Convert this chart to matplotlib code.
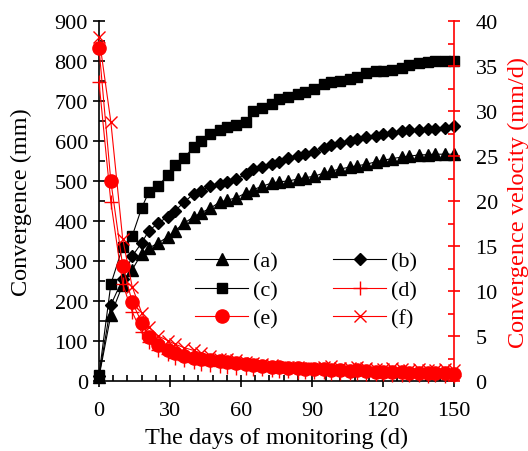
import matplotlib
matplotlib.use("Agg")
import matplotlib.pyplot as plt
from matplotlib.ticker import MultipleLocator, AutoMinorLocator

# --- Data ---
days = [0, 5, 10, 14, 18, 21, 25, 29, 32, 36, 40, 43, 47, 51, 54, 58, 62, 65, 69, 73, 76,
        80, 84, 87, 91, 95, 98, 102, 106, 109, 113, 117, 120, 124, 128, 131, 135, 139, 142, 146, 150]

conv_a = [10, 165, 240, 278, 318, 332, 345, 360, 375, 395, 410, 420, 432, 447, 452, 458, 470, 478, 487, 495, 498,
          500, 505, 508, 512, 520, 525, 530, 535, 538, 542, 548, 552, 556, 560, 562, 565, 566, 567, 567, 567]
conv_b = [12, 190, 255, 312, 345, 375, 395, 410, 425, 447, 468, 475, 487, 492, 497, 505, 517, 530, 536, 543, 548,
          557, 562, 567, 572, 582, 590, 595, 600, 605, 610, 612, 617, 620, 625, 627, 628, 630, 631, 633, 637]
conv_c = [15, 242, 335, 362, 432, 472, 487, 515, 540, 558, 585, 600, 618, 628, 635, 640, 648, 675, 683, 692, 705,
          710, 718, 722, 730, 742, 748, 750, 755, 760, 770, 775, 775, 778, 782, 790, 795, 798, 800, 800, 800]

vel_d = [33.2, 19.9, 10.8, 7.7, 5.4, 4.3, 3.5, 3.0, 2.6, 2.3, 2.1, 1.9, 1.8, 1.7, 1.6, 1.5, 1.4, 1.35, 1.3, 1.2, 1.1,
         1.1, 1.05, 1.0, 0.95, 1.0, 0.9, 0.9, 0.85, 0.9, 0.8, 0.8, 0.75, 0.7, 0.7, 0.65, 0.7, 0.6, 0.65, 0.6, 0.6]
vel_e = [37.0, 22.2, 12.8, 8.8, 6.5, 4.9, 4.0, 3.4, 3.1, 2.8, 2.6, 2.5, 2.3, 2.2, 2.1, 2.0, 1.9, 1.8, 1.7, 1.6, 1.55,
         1.5, 1.4, 1.35, 1.3, 1.3, 1.25, 1.2, 1.15, 1.2, 1.1, 1.05, 1.0, 1.0, 0.95, 0.9, 0.9, 0.85, 0.9, 0.85, 0.8]
vel_f = [38.2, 28.8, 15.8, 10.5, 7.6, 6.0, 5.0, 4.5, 4.1, 3.7, 3.4, 3.1, 2.8, 2.5, 2.4, 2.3, 2.1, 2.0, 1.9, 1.75, 1.6,
         1.6, 1.55, 1.5, 1.5, 1.6, 1.7, 1.5, 1.45, 1.6, 1.4, 1.35, 1.3, 1.4, 1.3, 1.2, 1.3, 1.25, 1.2, 1.3, 1.2]

plt.rcParams['font.family'] = ['Liberation Serif', 'DejaVu Serif']
plt.rcParams['font.size'] = 16

fig = plt.figure(figsize=(5.28, 4.52), dpi=100)
ax = fig.add_axes([99 / 528, 1 - 382 / 452, 355 / 528, 360 / 452])
ax2 = ax.twinx()

# --- Convergence (left axis) ---
la, = ax.plot(days, conv_a, color='black', lw=0.8, marker='^', ms=8, label='(a)', clip_on=False)
lb, = ax.plot(days, conv_b, color='black', lw=0.8, marker='D', ms=6.5, label='(b)', clip_on=False)
lc, = ax.plot(days, conv_c, color='black', lw=0.8, marker='s', ms=7, label='(c)', clip_on=False)

# --- Velocity (right axis) ---
ld, = ax2.plot(days, vel_d, color='red', lw=0.8, marker='+', ms=10, mew=1, label='(d)', clip_on=False)
le, = ax2.plot(days, vel_e, color='red', lw=0.8, marker='o', ms=9.5, label='(e)', clip_on=False)
lf, = ax2.plot(days, vel_f, color='red', lw=0.8, marker='x', ms=9, mew=1, label='(f)', clip_on=False)

ax.set_xlim(0, 150)
ax.set_ylim(0, 900)
ax2.set_ylim(0, 40)

ax.xaxis.set_major_locator(MultipleLocator(30))
ax.xaxis.set_minor_locator(AutoMinorLocator(5))
ax.yaxis.set_major_locator(MultipleLocator(100))
ax.yaxis.set_minor_locator(AutoMinorLocator(2))
ax2.yaxis.set_major_locator(MultipleLocator(5))
ax2.yaxis.set_minor_locator(AutoMinorLocator(2))

ax.tick_params(which='major', direction='inout', length=9, width=1.2)
ax.tick_params(which='minor', direction='in', length=4, width=1.2)
ax.tick_params(axis='x', which='major', pad=10)
ax2.tick_params(which='major', direction='inout', length=9, width=1.2, colors='red',
                labelcolor='black', pad=11)
ax2.tick_params(which='minor', direction='in', length=4, width=1.2, colors='red')

for s in ['top', 'right']:
    ax.spines[s].set_visible(False)
for s in ['top', 'left', 'bottom']:
    ax2.spines[s].set_visible(False)
ax.spines['left'].set_linewidth(1.2)
ax.spines['bottom'].set_linewidth(1.2)
ax2.spines['right'].set_color('red')
ax2.spines['right'].set_linewidth(1.2)

ax.set_xlabel('The days of monitoring (d)', fontsize=17.5, labelpad=5)
ax.set_ylabel('Convergence (mm)', fontsize=17.5, labelpad=16)
ax2.set_ylabel('Convergence velocity (mm/d)', fontsize=17.5, color='red', labelpad=7)

ax2.legend([la, lc, le, lb, ld, lf], ['(a)', '(c)', '(e)', '(b)', '(d)', '(f)'],
           ncol=2, frameon=False, loc='upper left', bbox_to_anchor=(0.27, 0.36),
           borderpad=0, borderaxespad=0, handlelength=2.4, handletextpad=0.2,
           columnspacing=2.5, labelspacing=0.35)

fig.savefig('out.png', dpi=100)
